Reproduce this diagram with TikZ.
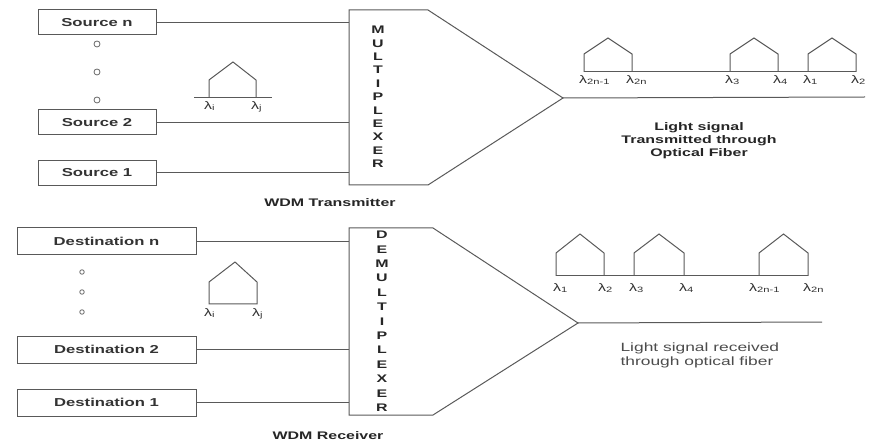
\documentclass[tikz,border=0pt]{standalone}
\usepackage{fontspec}
\setmainfont{Liberation Sans}[FakeStretch=1.45]
\usetikzlibrary{positioning}

\newcommand\wl[1]{λ\textsubscript{#1}}

\begin{document}
\begin{tikzpicture}[
    x=1pt,
    y=-1pt,
    wire/.style={draw=black!65, line width=1pt},
    srcbox/.style={draw=black!65, line width=1pt, minimum width=118pt, minimum height=25pt, inner sep=0pt, font=\fontsize{11.5}{14}\selectfont\bfseries, text=black!80},
    dstbox/.style={srcbox, minimum width=179pt, minimum height=27pt},
    dotgap/.style={circle, draw=black!60, line width=0.8pt, inner sep=0pt, minimum size=6pt},
    wlbl/.style={anchor=north west, inner sep=0pt, font=\fontsize{11}{13}\selectfont, text=black!80},
    lbl/.style={font=\fontsize{11}{13}\selectfont\bfseries, text=black!85, align=center},
    muxletter/.style={font=\fontsize{11}{13}\selectfont\bfseries, inner sep=0pt, text=black!85}
]
\useasboundingbox (0,0) rectangle (870,446);

% transmitter
\node[srcbox] (srcn) at (97,22.5) {Source n};
\node[srcbox] (src2) at (97,122.5) {Source 2};
\node[srcbox] (src1) at (97,173) {Source 1};
\foreach \y [count=\i] in {44,72,100}
    \node[dotgap] (tdot\i) at (97,\y) {};

\draw[wire] (349,10) -- (428,10) -- (563,98) -- (428,185) -- (349,185) -- cycle;
\coordinate (muxin) at (349,98);
\coordinate (muxout) at (563,98);
\coordinate (fibertx) at (865,97);
\foreach \c [count=\i from 0] in {M,U,L,T,I,P,L,E,X,E,R}
    \node[muxletter] (mux\i) at (378,30+13.4*\i) {\c};

\draw[wire] (srcn) -- (srcn -| muxin);
\draw[wire] (src2) -- (src2 -| muxin);
\draw[wire] (src1) -- (src1 -| muxin);
\draw[wire] (muxout) -- (fibertx);

\draw[wire] (194,98) -- (272,98);
\draw[wire] (209,98) -- (209,80) -- (233,62) -- (256,80) -- (256,98);
\node[wlbl] (tli) at (204,101) {\wl{i}};
\node[wlbl] (tlj) at (251,101) {\wl{j}};

\draw[wire] (584,72) -- (856,72);
\foreach \a in {584,730,808}
    \draw[wire] (\a,72) -- ++(0,-18) -- ++(24,-16) -- ++(24,16) -- ++(0,18);
\node[wlbl] (ta) at (579,75) {\wl{2n-1}};
\node[wlbl] (tb) at (626,75) {\wl{2n}};
\node[wlbl] (tc) at (725,75) {\wl{3}};
\node[wlbl] (td) at (773,75) {\wl{4}};
\node[wlbl] (te) at (803,75) {\wl{1}};
\node[wlbl] (tf) at (851,75) {\wl{2}};

\node[lbl] (txtxt) at (699,141) {Light signal\\Transmitted through\\Optical Fiber};
\node[lbl] (txname) at (330,203) {WDM Transmitter};

% receiver
\node[dstbox] (dstn) at (106.5,241.5) {Destination n};
\node[dstbox] (dst2) at (106.5,349.5) {Destination 2};
\node[dstbox] (dst1) at (106.5,402.5) {Destination 1};
\foreach \y [count=\i] in {272,292,312}
    \node[dotgap, minimum size=4.5pt] (rdot\i) at (82,\y) {};

\draw[wire] (349,228) -- (433,228) -- (578,323) -- (433,415) -- (349,415) -- cycle;
\coordinate (demuxin) at (349,323);
\coordinate (demuxout) at (578,323);
\coordinate (fiberrx) at (822,322);
\foreach \c [count=\i from 0] in {D,E,M,U,L,T,I,P,L,E,X,E,R}
    \node[muxletter] (demux\i) at (382,235+14.4*\i) {\c};

\draw[wire] (dstn) -- (dstn -| demuxin);
\draw[wire] (dst2) -- (dst2 -| demuxin);
\draw[wire] (dst1) -- (dst1 -| demuxin);
\draw[wire] (demuxout) -- (fiberrx);

\draw[wire] (209,304) -- (209,282) -- (235,262) -- (257,282) -- (257,304) -- cycle;
\node[wlbl] (rli) at (204,308) {\wl{i}};
\node[wlbl] (rlj) at (252,308) {\wl{j}};

\draw[wire] (556,276) -- (808,276);
\foreach \a/\w in {556/48,634/50,759/49}
    \draw[wire] (\a,276) -- ++(0,-23) -- ++(\w/2,-19) -- ++(\w/2,19) -- ++(0,23);
\node[wlbl] (ra) at (553,283) {\wl{1}};
\node[wlbl] (rb) at (598,283) {\wl{2}};
\node[wlbl] (rc) at (629,283) {\wl{3}};
\node[wlbl] (rd) at (679,283) {\wl{4}};
\node[wlbl] (re) at (749,283) {\wl{2n-1}};
\node[wlbl] (rf) at (803,283) {\wl{2n}};

\node[lbl, font=\fontsize{12}{14}\selectfont, align=left, text=black!70, anchor=west] (rxtxt) at (617,355) {Light signal received\\through optical fiber};
\node[lbl] (rxname) at (328,436) {WDM Receiver};
\end{tikzpicture}
\end{document}
